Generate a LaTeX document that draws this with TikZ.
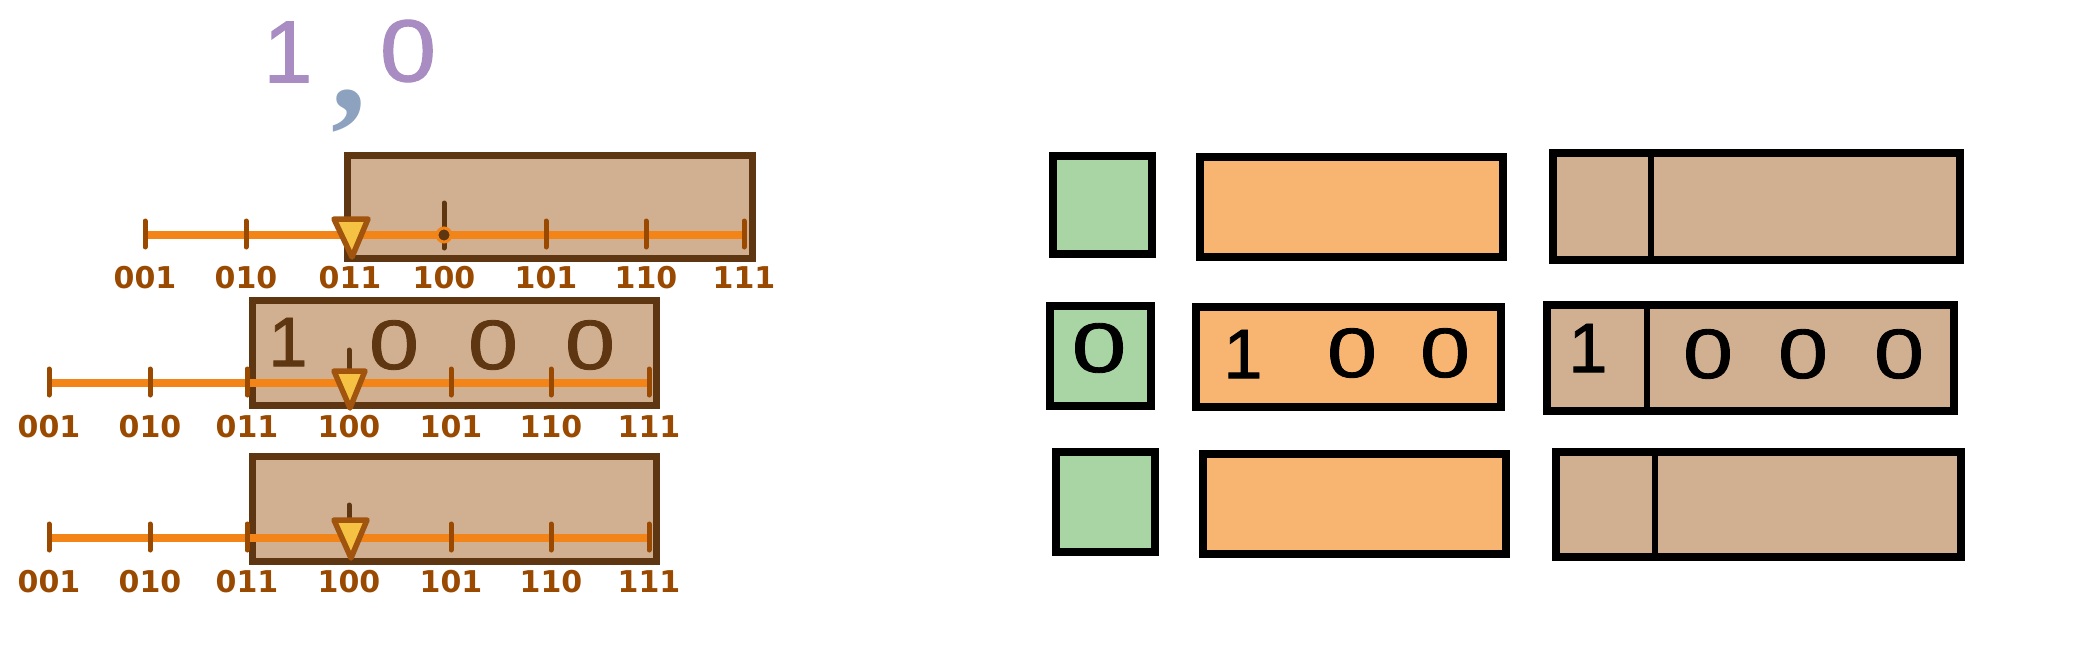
\documentclass[tikz,border=0pt]{standalone}
\usepackage{fontspec}
\usepackage{graphicx}
\setmainfont{DejaVu Sans}
\newfontfamily\digfont[FakeBold=1.2]{Liberation Sans}
\newfontfamily\commafont{Liberation Serif}
\newcommand\myzero[1][1.28]{\scalebox{#1}[1]{0}}
\definecolor{tan}{HTML}{D1AF91}
\definecolor{brownline}{HTML}{5E3611}
\definecolor{orangeline}{HTML}{F28418}
\definecolor{labcol}{HTML}{994A00}
\definecolor{trifill}{HTML}{F6C243}
\definecolor{triout}{HTML}{A0540E}
\definecolor{greenfill}{HTML}{A9D5A5}
\definecolor{orangefill}{HTML}{F8B572}
\definecolor{purp}{HTML}{A88CC2}
\definecolor{commablue}{HTML}{8CA2BE}
\begin{document}
\begin{tikzpicture}[x=1pt,y=-1pt,
  lbox/.style={draw=brownline, line width=7pt, fill=tan, anchor=north west, inner sep=0pt},
  rbox/.style={draw=black, line width=8pt, anchor=north west, inner sep=0pt},
  gbox/.style={rbox, fill=greenfill},
  obox/.style={rbox, fill=orangefill},
  tbox/.style={rbox, fill=tan},
  divline/.style={draw=black, line width=6pt},
  numline/.style={draw=orangeline, line width=8pt},
  tickst/.style={draw=labcol, line width=5pt, line cap=round},
  darktick/.style={draw=brownline, line width=5pt, line cap=round},
  lab/.style={text=labcol, inner sep=0pt, font=\fontsize{30}{36}\selectfont\bfseries},
  tri/.style={fill=trifill, draw=triout, line width=5.5pt, line join=round},
  bigdig/.style={text=brownline, inner sep=0pt, font=\digfont\fontsize{70}{74}\selectfont},
  rdig/.style={text=black, inner sep=0pt, font=\digfont\fontsize{70}{74}\selectfont},
  pdig/.style={text=purp, inner sep=0pt, font=\digfont\fontsize{88}{92}\selectfont}
]
\useasboundingbox[fill=white] (0,0) rectangle (2100,650);

% ---------- heading digits ----------
\node[pdig] (p1) at (288,52) {1};
\node[pdig] (p0) at (408,51) {\myzero[1.15]};
\node[text=commablue, inner sep=0pt, font=\commafont\fontsize{140}{140}\selectfont\bfseries] (pc) at (349,111) {,};

% ---------- left boxes ----------
\node[lbox, minimum width=405pt, minimum height=103pt] (b1) at (344,152) {};
\node[lbox, minimum width=404pt, minimum height=105pt] (b2) at (249,297) {};
\node[lbox, minimum width=404pt, minimum height=105pt] (b3) at (249,453) {};

% digits in box 2
\node[bigdig] (d21) at (288,342) {1};
\node[bigdig] (d22) at (394,345) {\myzero};
\node[bigdig] (d23) at (493,345) {\myzero};
\node[bigdig] (d24) at (590,345) {\myzero};

% ---------- number line 1 ----------
\foreach \i/\x/\t in {0/145/001,1/246/010,2/350/011,3/444/100,4/546/101,5/646/110,6/744/111}{
  \coordinate (a\i) at (\x,235);
  \node[lab] (la\i) at (\x,278) {\t};
}
\draw[numline] (a0) -- (a6);
\foreach \i in {0,1,4,5,6}{
  \draw[tickst] ([shift={(0,-14)}]a\i) -- ([shift={(0,12)}]a\i);
}
\draw[darktick] ([shift={(0,-32)}]a3) -- ([shift={(0,13)}]a3);
\draw[orangeline, line width=3pt, fill=brownline] (a3) circle (7pt);
\draw[tri] ([shift={(-16,-16)}]a2) -- ([shift={(18,-16)}]a2) -- ([shift={(2,22)}]a2) -- cycle;

% ---------- number line 2 ----------
\foreach \i/\x/\t in {0/49/001,1/150/010,2/247/011,3/349/100,4/451/101,5/551/110,6/649/111}{
  \coordinate (c\i) at (\x,383);
  \node[lab] (lc\i) at (\x,427) {\t};
}
\draw[numline] (c0) -- (c6);
\foreach \i in {0,1,2,4,5,6}{
  \draw[tickst] ([shift={(0,-14)}]c\i) -- ([shift={(0,12)}]c\i);
}
\draw[darktick] ([shift={(0,-33)}]c3) -- ([shift={(0,-11)}]c3);
\draw[tri] ([shift={(-15,-12)}]c3) -- ([shift={(16,-12)}]c3) -- ([shift={(1,25)}]c3) -- cycle;

% ---------- number line 3 ----------
\foreach \i/\x/\t in {0/49/001,1/150/010,2/247/011,3/349/100,4/451/101,5/551/110,6/649/111}{
  \coordinate (e\i) at (\x,538);
  \node[lab] (le\i) at (\x,582) {\t};
}
\draw[numline] (e0) -- (e6);
\foreach \i in {0,1,2,4,5,6}{
  \draw[tickst] ([shift={(0,-14)}]e\i) -- ([shift={(0,12)}]e\i);
}
\draw[darktick] ([shift={(0,-33)}]e3) -- ([shift={(0,-17)}]e3);
\draw[tri] ([shift={(-15,-18)}]e3) -- ([shift={(18,-18)}]e3) -- ([shift={(2,20)}]e3) -- cycle;

% ---------- right boxes ----------
\node[gbox, minimum width=99pt, minimum height=98pt] (g1) at (1049,152) {};
\node[obox, minimum width=303pt, minimum height=100pt] (o1) at (1196,153) {};
\node[tbox, minimum width=407pt, minimum height=107pt] (t1) at (1549,149) {};
\coordinate (v1) at (1651,0);
\draw[divline] (v1 |- t1.north) -- (v1 |- t1.south);

\node[gbox, minimum width=101pt, minimum height=100pt] (g2) at (1046,302) {};
\node[obox, minimum width=305pt, minimum height=100pt] (o2) at (1192,303) {};
\node[tbox, minimum width=407pt, minimum height=106pt] (t2) at (1543,301) {};
\coordinate (v2) at (1647,0);
\draw[divline] (v2 |- t2.north) -- (v2 |- t2.south);

\node[gbox, minimum width=99pt, minimum height=100pt] (g3) at (1052,448) {};
\node[obox, minimum width=303pt, minimum height=100pt] (o3) at (1199,450) {};
\node[tbox, minimum width=405pt, minimum height=105pt] (t3) at (1552,448) {};
\coordinate (v3) at (1655,0);
\draw[divline] (v3 |- t3.north) -- (v3 |- t3.south);

% digits in right middle row
\node[rdig] (gd) at (1099,348) {\myzero[1.4]};
\node[rdig] (od1) at (1243,354) {1};
\node[rdig] (od2) at (1352,353) {\myzero};
\node[rdig] (od3) at (1445,353) {\myzero};
\node[rdig] (td1) at (1588,348) {1};
\node[rdig] (td2) at (1708,354) {\myzero};
\node[rdig] (td3) at (1803,354) {\myzero};
\node[rdig] (td4) at (1899,354) {\myzero};
\end{tikzpicture}
\end{document}
